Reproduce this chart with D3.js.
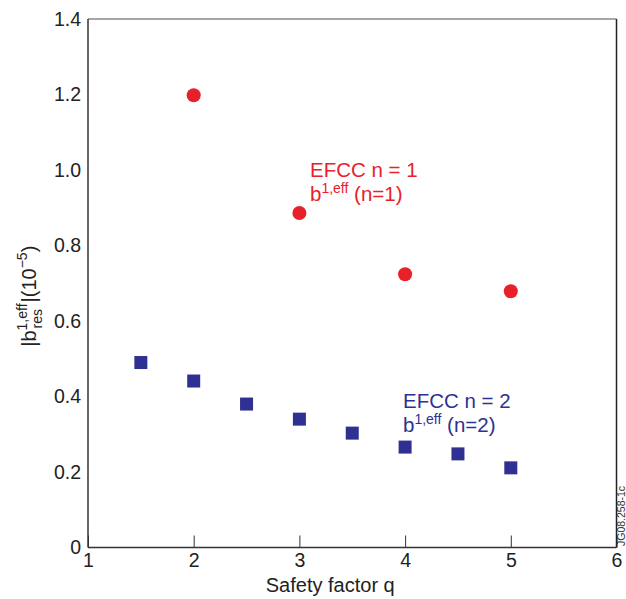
<!DOCTYPE html>
<html>
<head>
<meta charset="utf-8">
<script src="https://cdn.jsdelivr.net/npm/d3@7"></script>
<style>
  html, body { margin: 0; padding: 0; background: #fff; }
  svg { display: block; font-family: "Liberation Sans", Arial, sans-serif; }
</style>
</head>
<body>
<svg id="chart" width="626" height="599"></svg>
<script>
// data
const qN1 = [2, 3, 4, 5];
const bN1 = [1.198, 0.886, 0.724, 0.679];
const qN2 = [1.5, 2, 2.5, 3, 3.5, 4, 4.5, 5];
const bN2 = [0.49, 0.441, 0.38, 0.34, 0.303, 0.266, 0.248, 0.211];
const xTicks = [1, 2, 3, 4, 5, 6];
const yTicks = [0, 0.2, 0.4, 0.6, 0.8, 1.0, 1.2, 1.4];

const red = '#e8202a', blue = '#2e3192';
const mLeft = 88, mRight = 616.5, mTop = 19, mBottom = 547.5;

const svg = d3.select('#chart');
const x = d3.scaleLinear().domain([1, 6]).range([mLeft, mRight]);
const y = d3.scaleLinear().domain([0, 1.4]).range([mBottom, mTop]);

// x axis: inside ticks, labels below
svg.append('g')
    .attr('transform', `translate(0,${mBottom})`)
    .call(d3.axisBottom(x).tickValues(xTicks).tickSizeInner(-12).tickSizeOuter(0).tickPadding(6)
        .tickFormat(d3.format('d')))
    .call(g => g.select('.domain').remove())
    .call(g => g.selectAll('line').attr('stroke', '#333'))
    .call(g => g.selectAll('text').attr('font-size', 19.5).attr('fill', '#222').attr('font-family', null));

// y axis labels only
svg.append('g')
    .attr('transform', `translate(${mLeft},0)`)
    .call(d3.axisLeft(y).tickValues(yTicks).tickSize(0).tickPadding(7)
        .tickFormat(d => d === 0 ? '0' : d3.format('.1f')(d)))
    .call(g => g.select('.domain').remove())
    .call(g => g.selectAll('text').attr('font-size', 19.5).attr('fill', '#222').attr('font-family', null));

// frame
svg.append('line').attr('x1', mLeft).attr('x2', mRight).attr('y1', mTop).attr('y2', mTop)
    .attr('stroke', '#888').attr('stroke-width', 1.5);
svg.append('line').attr('x1', mLeft).attr('x2', mRight).attr('y1', mBottom).attr('y2', mBottom)
    .attr('stroke', '#333').attr('stroke-width', 1.5);
svg.append('line').attr('x1', mLeft).attr('x2', mLeft).attr('y1', mTop).attr('y2', mBottom)
    .attr('stroke', '#333').attr('stroke-width', 1.5);
svg.append('line').attr('x1', mRight).attr('x2', mRight).attr('y1', mTop).attr('y2', mBottom)
    .attr('stroke', '#222').attr('stroke-width', 1.5);

// series n=1: circles
svg.append('g').selectAll('circle')
    .data(qN1.map((q, i) => [q, bN1[i]]))
    .join('circle')
    .attr('cx', d => x(d[0]))
    .attr('cy', d => y(d[1]))
    .attr('r', 7)
    .attr('fill', red);

// series n=2: squares
const s = 13;
svg.append('g').selectAll('rect')
    .data(qN2.map((q, i) => [q, bN2[i]]))
    .join('rect')
    .attr('x', d => x(d[0]) - s / 2)
    .attr('y', d => y(d[1]) - s / 2)
    .attr('width', s)
    .attr('height', s)
    .attr('fill', blue);

// legend-like labels
function label(xx, yy, n, color) {
    const g = svg.append('g').attr('fill', color).attr('font-size', 20.5);
    g.append('text').attr('x', xx).attr('y', yy).text(`EFCC n = ${n}`);
    const t = g.append('text').attr('x', xx).attr('y', yy + 23.5);
    t.append('tspan').text('b');
    t.append('tspan').attr('font-size', 14).attr('dy', -8).text('1,eff');
    t.append('tspan').attr('dy', 8).text(` (n=${n})`);
}
label(310, 177, 1, red);
label(403, 408, 2, blue);

// axis titles
svg.append('text')
    .attr('x', (mLeft + mRight) / 2 - 22).attr('y', 592)
    .attr('text-anchor', 'middle').attr('font-size', 20).attr('fill', '#222')
    .text('Safety factor q');

// y title: |b^{1,eff}_{res}|(10^{-5}), sub/sup stacked
const yl = svg.append('text')
    .attr('transform', 'translate(36,0) rotate(-90)')
    .attr('font-size', 20).attr('fill', '#222');
yl.append('tspan').text('|b');
const sup = yl.append('tspan').attr('font-size', 14).attr('dy', -9).text('1,eff');
const sub = yl.append('tspan').attr('font-size', 14).attr('dy', 15).text('res');
const rest1 = yl.append('tspan').attr('dy', -6).text('|(10');
yl.append('tspan').attr('font-size', 14).attr('dy', -9).text('−5');
yl.append('tspan').attr('dy', 9).text(')');
const wSup = sup.node().getComputedTextLength();
const wSub = sub.node().getComputedTextLength();
sub.attr('dx', -wSup + 2);
rest1.attr('dx', Math.max(0, wSup - wSub - 2) + 1);
const wAll = yl.node().getComputedTextLength();
yl.attr('x', -287 - wAll / 2);

// figure id
svg.append('text')
    .attr('transform', 'translate(625,546) rotate(-90)')
    .attr('font-size', 10.5).attr('fill', '#333')
    .text('JG08.258-1c');
</script>
</body>
</html>
